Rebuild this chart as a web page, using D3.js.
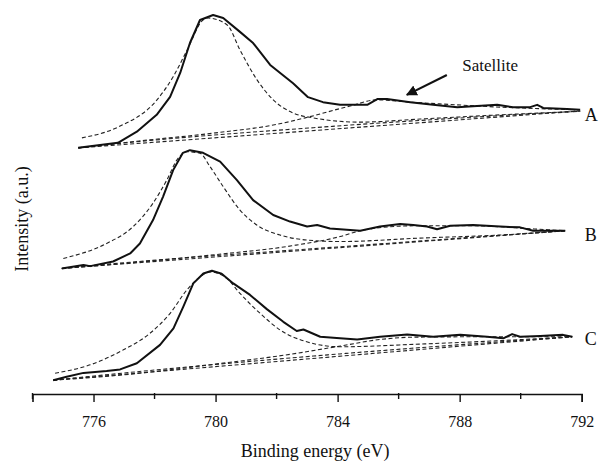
<!DOCTYPE html>
<html>
<head>
<meta charset="utf-8">
<script src="https://cdn.jsdelivr.net/npm/d3@7"></script>
<style>
  body { margin: 0; background: #fff; }
  svg text { font-family: "Liberation Serif", "DejaVu Serif", "Times New Roman", serif; fill: #111; }
  .raw { fill: none; stroke: #111; stroke-width: 2; stroke-linejoin: round; }
  .fit { fill: none; stroke: #222; stroke-width: 1.1; stroke-dasharray: 4,2.5; }
</style>
</head>
<body>
<svg id="chart" width="603" height="464"></svg>
<script>
// Co 2p3/2 spectra, values as [binding energy (eV), intensity (a.u.)]
const rawA = [[775.5,64.1],[776.8,65.4],[777.42,68.3],[778.07,72.7],[778.51,77.4],[778.84,83.6],[779.16,91.4],[779.49,97.4],[779.92,98.7],[780.25,97.9],[780.8,94.3],[781.23,91.4],[781.79,85.7],[782.54,80.9],[783.03,77.3],[783.52,76.0],[784.08,75.3],[784.97,75.3],[785.3,76.8],[785.62,76.8],[786.38,76.0],[787.13,75.3],[787.92,74.7],[788.57,75.0],[789.23,75.3],[789.75,74.7],[790.31,74.7],[790.54,75.3],[790.74,74.5],[791.52,74.2],[791.95,74.0]];
const peakA = [[775.62,66.7],[776.8,69.5],[778.08,76.6],[778.61,82.6],[779.07,89.6],[779.59,97.4],[779.75,97.9],[780.38,96.1],[780.8,89.6],[781.36,81.8],[781.89,76.6],[782.54,73.2],[783.2,71.9],[784.74,70.8],[786.7,71.6],[789.33,72.7],[791.95,73.6]];
const satA = [[775.5,64.1],[777.5,65.9],[780.0,68.0],[782.0,70.2],[783.03,72.1],[784.41,75.0],[785.3,76.6],[786.38,76.0],[787.92,75.3],[789.33,74.7],[791.95,74.0]];
const bgA = [[775.5,64.1],[791.95,73.7]];
const bgA2 = [[775.5,64.1],[776.8,65.2],[784.0,69.8],[791.95,73.7]];

const rawB = [[774.96,32.7],[775.67,33.6],[775.89,33.3],[776.64,34.5],[777.2,36.6],[777.52,39.2],[777.95,45.3],[778.28,51.4],[778.61,58.3],[778.93,62.8],[779.16,63.5],[779.59,62.8],[780.15,60.5],[780.7,55.7],[781.23,50.5],[781.89,46.6],[782.44,44.9],[783.0,43.6],[783.33,44.0],[783.75,43.1],[784.74,42.5],[785.39,43.6],[786.05,44.3],[786.48,44.0],[786.93,43.6],[787.26,42.9],[787.69,43.8],[788.44,44.0],[789.33,43.6],[789.98,43.4],[790.41,42.5],[791.46,42.5]];
const peakB = [[775.01,35.3],[776.43,39.2],[777.3,43.6],[777.95,49.7],[778.4,55.7],[778.73,60.9],[779.06,63.1],[779.49,62.7],[779.82,59.2],[780.25,54.0],[780.8,47.9],[781.35,44.0],[782.11,41.4],[782.99,40.1],[784.08,39.7],[786.7,40.6],[789.33,41.4],[791.46,42.5]];
const satB = [[774.96,32.7],[777.0,34.0],[780.0,36.3],[782.5,38.6],[784.08,41.0],[784.74,42.5],[785.5,43.4],[786.5,43.8],[788.4,43.8],[790.4,43.0],[791.46,42.5]];
const bgB = [[774.96,32.7],[791.46,42.5]];
const bgB2 = [[774.96,32.7],[776.6,33.9],[784.0,38.3],[791.46,42.5]];

const rawC = [[774.68,3.6],[775.12,4.5],[775.67,5.5],[776.43,6.0],[776.87,6.4],[777.42,8.0],[778.18,12.8],[778.62,17.1],[778.94,22.7],[779.27,28.8],[779.6,31.4],[779.88,32.1],[780.2,31.3],[780.58,28.8],[781.13,25.8],[781.68,22.1],[782.22,18.8],[782.66,16.4],[782.88,16.8],[783.43,14.9],[784.08,14.5],[784.64,14.2],[785.39,14.9],[786.28,15.5],[787.13,14.9],[788.02,15.4],[788.9,14.9],[789.43,14.5],[789.72,15.6],[789.98,14.9],[790.64,15.1],[791.39,15.4],[791.69,14.9]];
const peakC = [[774.74,5.4],[775.89,7.6],[776.98,11.5],[777.85,15.8],[778.51,21.0],[779.06,27.1],[779.49,30.5],[779.82,31.8],[780.37,30.1],[780.8,26.2],[781.46,21.0],[782.11,16.7],[782.99,13.6],[784.08,12.3],[786.7,13.0],[789.33,13.9],[791.69,14.9]];
const satC = [[774.68,3.6],[777.0,5.0],[780.0,7.8],[782.5,10.4],[784.1,12.5],[785.4,14.2],[786.5,14.8],[788.5,14.9],[790.5,14.9],[791.69,14.9]];
const bgC = [[774.68,3.6],[791.69,14.9]];
const bgC2 = [[774.68,3.6],[776.4,5.0],[784.0,10.4],[791.69,14.9]];

const seriesNames = ['A', 'B', 'C'];
const labelLevels = [72.8, 41.6, 14.3];
const majorTicks = [776, 780, 784, 788, 792];
const minorTicks = [774, 778, 782, 786, 790];
const satelliteArrow = [[787.58, 83.1], [786.27, 77.9]];
const satelliteText = [789.0, 85.6];

const serif = '"Liberation Serif", "DejaVu Serif", "Times New Roman", serif';

const svg = d3.select('#chart');

const x = d3.scaleLinear().domain([774, 792]).range([32.5, 581.7]);
const y = d3.scaleLinear().domain([0, 100]).range([394, 10]);

const line = d3.line()
  .x(d => x(d[0]))
  .y(d => y(d[1]));
const smooth = d3.line()
  .x(d => x(d[0]))
  .y(d => y(d[1]))
  .curve(d3.curveMonotoneX);

const fits = [bgA, bgA2, satA, peakA, bgB, bgB2, satB, peakB, bgC, bgC2, satC, peakC];
svg.selectAll('path.fit')
  .data(fits)
  .enter().append('path')
    .attr('class', 'fit')
    .attr('d', d => d.length > 2 ? smooth(d) : line(d));

svg.selectAll('path.raw')
  .data([rawA, rawB, rawC])
  .enter().append('path')
    .attr('class', 'raw')
    .attr('d', line);

// series letters
svg.selectAll('text.series')
  .data(seriesNames)
  .enter().append('text')
    .attr('class', 'series')
    .attr('x', x(792.1))
    .attr('y', (d, i) => y(labelLevels[i]))
    .attr('dy', '0.35em')
    .attr('font-family', serif)
    .attr('font-size', 18)
    .text(d => d);

// satellite annotation
svg.append('defs').append('marker')
    .attr('id', 'arrow')
    .attr('viewBox', '0 0 10 10')
    .attr('refX', 9)
    .attr('refY', 5)
    .attr('markerWidth', 5)
    .attr('markerHeight', 5)
    .attr('orient', 'auto')
  .append('path')
    .attr('d', 'M0,0L10,5L0,10z')
    .attr('fill', '#111');

svg.append('path')
  .attr('d', line(satelliteArrow))
  .attr('stroke', '#111')
  .attr('stroke-width', 2.2)
  .attr('marker-end', 'url(#arrow)');

svg.append('text')
  .attr('x', x(satelliteText[0]))
  .attr('y', y(satelliteText[1]))
  .attr('text-anchor', 'middle')
  .attr('dy', '0.35em')
  .attr('font-family', serif)
  .attr('font-size', 17)
  .text('Satellite');

// x axis
const axisG = svg.append('g')
  .attr('transform', `translate(0, ${y(0)})`);

axisG.call(d3.axisBottom(x).tickValues(majorTicks).tickSize(8).tickPadding(14).tickFormat(d3.format('d')));
axisG.attr('font-family', serif);
axisG.call(g => g.select('.domain').attr('stroke', '#111').attr('stroke-width', 1.6));
axisG.selectAll('.tick line').attr('stroke', '#111').attr('stroke-width', 1.4);
axisG.selectAll('.tick text')
  .attr('font-family', serif)
  .attr('font-size', 16)
  .attr('fill', '#111');

axisG.selectAll('line.minor')
  .data(minorTicks)
  .enter().append('line')
    .attr('class', 'minor')
    .attr('x1', d => x(d))
    .attr('x2', d => x(d))
    .attr('y1', -1)
    .attr('y2', 5)
    .attr('stroke', '#111')
    .attr('stroke-width', 1.4);

svg.append('text')
  .attr('x', (x(774) + x(792)) / 2 + 8)
  .attr('y', 457)
  .attr('text-anchor', 'middle')
  .attr('font-family', serif)
  .attr('font-size', 18)
  .text('Binding energy (eV)');

svg.append('text')
  .attr('transform', 'translate(22, 219) rotate(-90)')
  .attr('text-anchor', 'middle')
  .attr('dy', '0.35em')
  .attr('font-family', serif)
  .attr('font-size', 18)
  .text('Intensity (a.u.)');
</script>
</body>
</html>
